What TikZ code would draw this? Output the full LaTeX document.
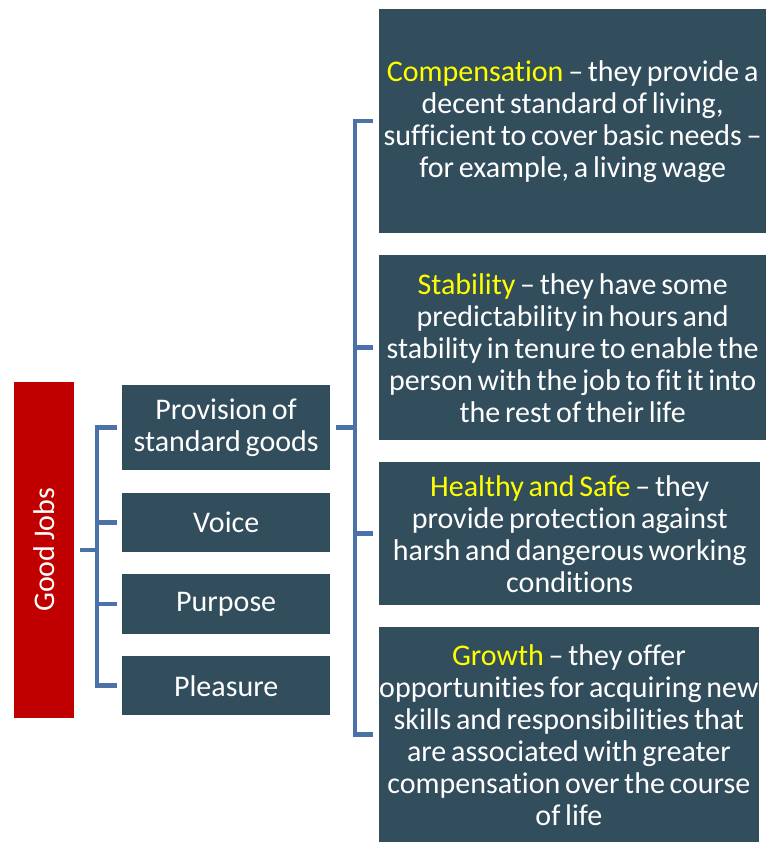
\documentclass[tikz,border=0pt]{standalone}
\usepackage{fontspec}
\setmainfont{Carlito}[WordSpace=0.7, Ligatures=NoCommon]
\usetikzlibrary{positioning}
\begin{document}
\begin{tikzpicture}[x=1pt, y=-1pt]
  % Colors
  \definecolor{jobred}{RGB}{192,0,0}
  \definecolor{slatecol}{RGB}{50,77,92}
  \definecolor{linkcol}{RGB}{74,114,168}
  \definecolor{keycol}{RGB}{255,255,0}
  %
  \def\key#1{\textcolor{keycol}{#1}}
  %
  \tikzset{
    rootbox/.style={fill=jobred, text=white, rotate=90, minimum width=336pt, minimum height=60pt,
                    inner sep=0pt, font=\fontsize{30}{32}\selectfont},
    midbox/.style={fill=slatecol, text=white, minimum width=208pt, align=center,
                   inner sep=0pt, anchor=north west, font=\fontsize{30}{32}\selectfont},
    descbox/.style={fill=slatecol, text=white, align=center, inner sep=0pt, anchor=north west,
                    font=\fontsize{30}{32}\selectfont},
    bracket/.style={draw=linkcol, line width=4.5pt},
  }
  \useasboundingbox (0,0) rectangle (766,843);
  %
  %%% ROOT %%%
  \node[rootbox] (jobs) at (44,550) {Good Jobs};
  %
  %%% MIDDLE COLUMN %%%
  \node[midbox, minimum height=85pt] (prov) at (122,385) {Provision of\\standard goods};
  \node[midbox, minimum height=59pt] (voice) at (122,493) {Voice};
  \node[midbox, minimum height=60pt] (purp) at (122,574) {Purpose};
  \node[midbox, minimum height=59pt] (pleas) at (122,656) {Pleasure};
  %
  %%% RIGHT COLUMN %%%
  \node[descbox, minimum width=387pt, minimum height=224pt] (comp) at (379,9)
    {\key{Compensation} -- they provide a\\decent standard of living,\\sufficient to cover basic needs --\\for example, a living wage};
  \node[descbox, minimum width=387pt, minimum height=185pt] (stab) at (379,255)
    {\key{Stability} -- they have some\\predictability in hours and\\stability in tenure to enable the\\person with the job to fit it into\\the rest of their life};
  \node[descbox, minimum width=381pt, minimum height=143pt] (safe) at (379,462)
    {\key{Healthy and Safe} -- they\\provide protection against\\harsh and dangerous working\\conditions};
  \node[descbox, minimum width=377pt, minimum height=215pt] (grow) at (379,627)
    {\key{Growth} -- they offer\\opportunities for acquiring new\\skills and responsibilities that\\are associated with greater\\compensation over the course\\of life};
  %
  %%% BRACKETS %%%
  \coordinate (lspine) at (97,0);
  \coordinate (rspine) at (355,0);
  %
  % Good Jobs -> middle column
  \draw[bracket] ([xshift=6pt]jobs.south) -- (lspine |- jobs.south);
  \draw[bracket] ([xshift=-5pt]prov.west) -| (lspine |- pleas.west) -- ([xshift=-5pt]pleas.west);
  \draw[bracket] (lspine |- voice.west) -- ([xshift=-5pt]voice.west);
  \draw[bracket] (lspine |- purp.west) -- ([xshift=-5pt]purp.west);
  %
  % Provision -> right column
  \draw[bracket] ([xshift=6pt]prov.east) -- (rspine |- prov.east);
  \draw[bracket] ([xshift=-6pt]comp.west) -| (rspine |- grow.west) -- ([xshift=-6pt]grow.west);
  \draw[bracket] (rspine |- stab.west) -- ([xshift=-6pt]stab.west);
  \draw[bracket] (rspine |- safe.west) -- ([xshift=-6pt]safe.west);
\end{tikzpicture}
\end{document}
